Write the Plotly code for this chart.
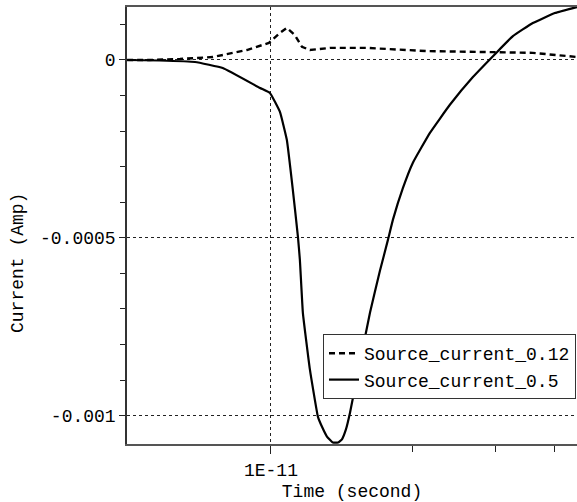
import plotly.graph_objects as go

# Source_current_0.5 (solid)
t_05 = [4.95e-12, 5.8e-12, 6.9e-12, 7.9e-12, 9.48e-12, 9.95e-12, 1.045e-11, 1.081e-11,
        1.113e-11, 1.141e-11, 1.152e-11, 1.169e-11, 1.210e-11, 1.258e-11, 1.283e-11,
        1.315e-11, 1.354e-11, 1.388e-11, 1.415e-11, 1.443e-11, 1.472e-11, 1.545e-11,
        1.623e-11, 1.704e-11, 1.772e-11, 1.816e-11, 1.907e-11, 2.002e-11,
        2.176e-11, 2.399e-11, 2.685e-11, 3.019e-11, 3.265e-11, 3.599e-11, 4.008e-11,
        4.466e-11]
i_05 = [0.0, -1.4e-6, -5.6e-6, -2.25e-5, -7.87e-5, -9.27e-5, -1.46e-4, -2.25e-4,
        -3.65e-4, -4.97e-4, -5.62e-4, -7.11e-4, -8.71e-4, -1.003e-3, -1.031e-3,
        -1.059e-3, -1.076e-3, -1.076e-3, -1.067e-3, -1.039e-3, -9.92e-4, -8.51e-4,
        -7.11e-4, -5.93e-4, -5.06e-4, -4.49e-4, -3.60e-4, -2.89e-4,
        -2.05e-4, -1.26e-4, -4.8e-5, 2.2e-5, 6.7e-5, 1.04e-4, 1.32e-4,
        1.49e-4]

# Source_current_0.12 (dashed)
t_012 = [4.95e-12, 5.53e-12, 6.41e-12, 7.53e-12, 8.89e-12, 9.9e-12, 1.045e-11, 1.081e-11,
         1.124e-11, 1.164e-11, 1.210e-11, 1.335e-11, 1.599e-11, 2.144e-11, 2.960e-11,
         3.599e-11, 4.466e-11]
i_012 = [0.0, 0.0, 2.8e-6, 8.4e-6, 2.8e-5, 4.8e-5, 7.6e-5, 9.0e-5,
         7.0e-5, 3.7e-5, 2.8e-5, 3.4e-5, 3.4e-5, 2.5e-5, 2.2e-5,
         2.0e-5, 8.4e-6]

y_major = [0.0, -0.0005, -0.001]
y_major_text = ["0", "-0.0005", "-0.001"]
y_minor = [0.0001, -0.0001, -0.0002, -0.0003, -0.0004, -0.0006, -0.0007, -0.0008, -0.0009]
x_major = [1e-11]
x_major_text = ["1E-11"]
x_minor = [2e-11, 3e-11, 4e-11]

FONT = "Liberation Mono"

fig = go.Figure()
fig.add_trace(go.Scatter(x=t_012, y=i_012, mode="lines", name="Source_current_0.12",
                         line=dict(color="black", width=2.4, dash="6px,4px")))
fig.add_trace(go.Scatter(x=t_05, y=i_05, mode="lines", name="Source_current_0.5",
                         line=dict(color="black", width=2.2, shape="spline", smoothing=0.3)))

fig.update_layout(
    width=577, height=502,
    margin=dict(l=127, r=0, t=7, b=58, autoexpand=False),
    plot_bgcolor="white", paper_bgcolor="white",
    font=dict(family=FONT, size=18, color="black"),
    showlegend=True,
    legend=dict(x=(323 - 127) / 450, y=(444 - 334) / 437, xanchor="left", yanchor="top",
                bordercolor="#333", borderwidth=1, bgcolor="white",
                font=dict(family=FONT, size=18, color="black"),
                traceorder="normal", itemwidth=30),
    xaxis=dict(type="log", range=[-11.3057, -10.350],
               tickmode="array", tickvals=x_major, ticktext=x_major_text,
               ticks="outside", ticklen=8, tickcolor="#222", tickwidth=1,
               showgrid=True, gridcolor="#222", griddash="dot", gridwidth=1,
               minor=dict(tickmode="array", tickvals=x_minor, ticks="outside", ticklen=6,
                          tickcolor="#222", showgrid=False),
               showline=True, linecolor="#555", linewidth=2, mirror=True,
               zeroline=False,
               title=dict(text="Time (second)", standoff=12,
                          font=dict(family=FONT, size=18))),
    yaxis=dict(range=[-0.00108, 0.000149],
               tickmode="array", tickvals=y_major, ticktext=y_major_text,
               ticks="outside", ticklen=6, tickcolor="#222", tickwidth=1,
               showgrid=True, gridcolor="#222", griddash="dot", gridwidth=1,
               minor=dict(tickmode="array", tickvals=y_minor, ticks="outside", ticklen=5,
                          tickcolor="#222", showgrid=False),
               showline=True, linecolor="#333", linewidth=1.5,
               zeroline=False, ticklabelstandoff=0),
    annotations=[dict(text="Current (Amp)", xref="paper", yref="paper",
                      x=(18 - 127) / 450, y=(444 - 263) / 437, textangle=-90,
                      showarrow=False, xanchor="center", yanchor="middle",
                      font=dict(family=FONT, size=18, color="black"))],
)

fig.write_html("out.html")
